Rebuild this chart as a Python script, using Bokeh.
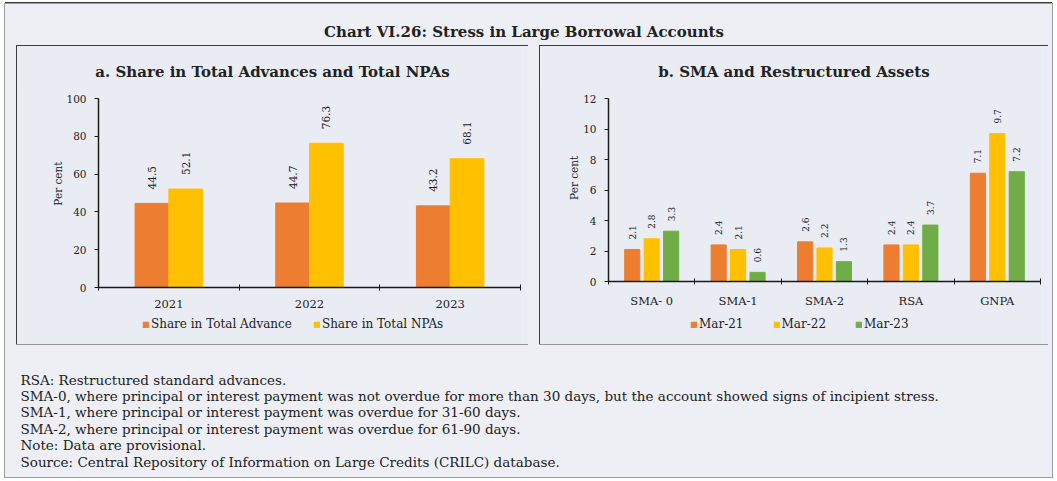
import numpy as np
from bokeh.plotting import figure
from bokeh.models import (ColumnDataSource, Range1d, FixedTicker, Legend, LegendItem, Spacer)
from bokeh.layouts import column, row
from bokeh.embed import file_html
from bokeh.resources import INLINE
from bokeh.core.properties import value

# ---------------- data ----------------
chart_title = "Chart VI.26: Stress in Large Borrowal Accounts"

a_title = "a. Share in Total Advances and Total NPAs"
years = ["2021", "2022", "2023"]
share_adv = [44.5, 44.7, 43.2]
share_npa = [52.1, 76.3, 68.1]
a_series = ["Share in Total Advance", "Share in Total NPAs"]
a_yticks = [0, 20, 40, 60, 80, 100]

b_title = "b. SMA and Restructured Assets"
b_cats = ["SMA- 0", "SMA-1", "SMA-2", "RSA", "GNPA"]
mar21 = [2.1, 2.4, 2.6, 2.4, 7.1]
mar22 = [2.8, 2.1, 2.2, 2.4, 9.7]
mar23 = [3.3, 0.6, 1.3, 3.7, 7.2]
b_series = ["Mar-21", "Mar-22", "Mar-23"]
b_yticks = [0, 2, 4, 6, 8, 10, 12]

y_label = "Per cent"

notes = [
    "RSA: Restructured standard advances.",
    "SMA-0, where principal or interest payment was not overdue for more than 30 days, but the account showed signs of incipient stress.",
    "SMA-1, where principal or interest payment was overdue for 31-60 days.",
    "SMA-2, where principal or interest payment was overdue for 61-90 days.",
    "Note: Data are provisional.",
    "Source: Central Repository of Information on Large Credits (CRILC) database.",
]

# ---------------- style ----------------
FONT = "DejaVu Serif"
ORANGE = "#ED7D31"
YELLOW = "#FFC000"
GREEN = "#70AD47"
OUTER_BG = "#edeff4"
PANEL_BG = "#e9ecf3"
AXIS_C = "#1a1a1a"
TEXT_C = "#222222"
W = 1047
PANEL_H = 298
HEADROOM = 9


def panel(title, width, n_cats, y_max, px_left, px_right, px_top, px_bottom_zero):
    """Frame covers the whole panel below the title; axes are pinned at 0."""
    ux = (width - px_left - px_right) / n_cats                 # pixels per category
    uy = (PANEL_H - px_top - px_bottom_zero) / y_max           # pixels per y unit
    xr = Range1d(-px_left / ux, n_cats + px_right / ux)
    yr = Range1d(-px_bottom_zero / uy, y_max + HEADROOM / uy)
    p = figure(width=width, height=PANEL_H, x_range=xr, y_range=yr, title=title,
               toolbar_location=None, output_backend="svg",
               min_border_left=0, min_border_right=0, min_border_top=px_top - HEADROOM,
               min_border_bottom=0)
    p.background_fill_color = PANEL_BG
    p.border_fill_color = PANEL_BG
    p.outline_line_color = None
    p.xgrid.visible = False
    p.ygrid.visible = False
    p.title.text_font = FONT
    p.title.text_font_size = "15px"
    p.title.text_font_style = "bold"
    p.title.text_color = TEXT_C
    p.title.align = "center"
    p.title.standoff = 18
    xa, ya = p.xaxis[0], p.yaxis[0]
    for ax in (xa, ya):
        ax.fixed_location = 0
        ax.axis_line_color = AXIS_C
        ax.axis_line_width = 1.5
        ax.major_label_text_font = FONT
        ax.major_label_text_color = TEXT_C
    xa.major_label_text_font_size = "11.5px"
    ya.major_label_text_font_size = "10.5px"
    xa.bounds = (0, n_cats)
    ya.bounds = (0, y_max)
    xa.major_tick_line_color = None
    xa.major_tick_out = 0
    xa.major_tick_in = 0
    xa.minor_tick_line_color = AXIS_C
    xa.minor_tick_in = 3
    xa.minor_tick_out = 3
    xa.major_label_standoff = 9
    ya.major_tick_line_color = AXIS_C
    ya.major_tick_in = 0
    ya.major_tick_out = 4
    ya.minor_tick_line_color = None
    ya.major_label_standoff = 8
    p.styles = {"outline": "1px solid #3c3c3c"}
    return p, ux, uy


def add_legend(p, labels, renderers, spacing, loc):
    leg = Legend(items=[LegendItem(label=l, renderers=[r]) for l, r in zip(labels, renderers)],
                 orientation="horizontal", location=loc)
    leg.background_fill_alpha = 0
    leg.border_line_alpha = 0
    leg.label_text_font = FONT
    leg.label_text_font_size = "12px"
    leg.label_text_color = TEXT_C
    leg.glyph_width = 7
    leg.glyph_height = 7
    leg.label_standoff = 2
    leg.spacing = spacing
    leg.padding = 2
    leg.margin = 0
    p.add_layout(leg, "center")


def value_labels(p, xk, yk, tk, src, size, off):
    p.text(x=xk, y=yk, text=tk, source=src, angle=np.pi / 2, y_offset=-off,
           text_align="left", text_baseline="middle", text_font=value(FONT),
           text_font_size=size, text_color=TEXT_C)


# ---------------- panel a ----------------
pa, uxa, uya = panel(a_title, 510, len(years), 100, 81, 7, 52, 57)
xa_c = np.arange(len(years)) + 0.5
src_a = ColumnDataSource(dict(
    x_adv=xa_c - 0.12, x_npa=xa_c + 0.12, adv=share_adv, npa=share_npa,
    adv_t=[f"{v:.1f}" for v in share_adv], npa_t=[f"{v:.1f}" for v in share_npa]))
pa.xaxis.ticker = FixedTicker(ticks=list(xa_c), minor_ticks=list(range(len(years) + 1)))
pa.xaxis.major_label_overrides = {float(c): t for c, t in zip(xa_c, years)}
pa.yaxis.ticker = FixedTicker(ticks=a_yticks)
r1 = pa.vbar(x="x_adv", top="adv", width=0.24, source=src_a, color=ORANGE)
r2 = pa.vbar(x="x_npa", top="npa", width=0.24, source=src_a, color=YELLOW)
value_labels(pa, "x_adv", "adv", "adv_t", src_a, "10.5px", 14)
value_labels(pa, "x_npa", "npa", "npa_t", src_a, "10.5px", 14)
pa.text(x=[-41 / uxa], y=[55], text=[y_label], angle=np.pi / 2, text_align="center",
        text_baseline="middle", text_font=value(FONT), text_font_size="10.5px", text_color=TEXT_C)
add_legend(pa, a_series, [r1, r2], 21, (123, 11))

# ---------------- panel b ----------------
pb, uxb, uyb = panel(b_title, 507, len(b_cats), 12, 68, 7, 52, 63)
xb_c = np.arange(len(b_cats)) + 0.5
src_b = ColumnDataSource(dict(
    x1=xb_c - 0.225, x2=xb_c, x3=xb_c + 0.225, v1=mar21, v2=mar22, v3=mar23,
    t1=[f"{v:.1f}" for v in mar21], t2=[f"{v:.1f}" for v in mar22], t3=[f"{v:.1f}" for v in mar23]))
pb.xaxis.ticker = FixedTicker(ticks=list(xb_c), minor_ticks=list(range(len(b_cats) + 1)))
pb.xaxis.major_label_overrides = {float(c): t for c, t in zip(xb_c, b_cats)}
pb.yaxis.ticker = FixedTicker(ticks=b_yticks)
rb = []
for xk, vk, tk, col in (("x1", "v1", "t1", ORANGE), ("x2", "v2", "t2", YELLOW), ("x3", "v3", "t3", GREEN)):
    rb.append(pb.vbar(x=xk, top=vk, width=0.175, source=src_b, color=col))
    value_labels(pb, xk, vk, tk, src_b, "9px", 10)
pb.text(x=[-35 / uxb], y=[6.8], text=[y_label], angle=np.pi / 2, text_align="center",
        text_baseline="middle", text_font=value(FONT), text_font_size="10.5px", text_color=TEXT_C)
add_legend(pb, b_series, rb, 29, (148, 11))

# ---------------- header & notes ----------------
def text_fig(h):
    f = figure(width=W, height=h, x_range=Range1d(0, W), y_range=Range1d(0, h),
               toolbar_location=None, output_backend="svg", x_axis_type=None, y_axis_type=None,
               min_border=0)
    f.background_fill_color = OUTER_BG
    f.border_fill_color = OUTER_BG
    f.outline_line_color = None
    f.xgrid.visible = False
    f.ygrid.visible = False
    return f

HEAD_H = 42
head = text_fig(HEAD_H)
head.text(x=[W / 2 - 5], y=[HEAD_H - 27], text=[chart_title], text_align="center",
          text_baseline="middle", text_font=value(FONT), text_font_size="15px",
          text_font_style="bold", text_color=TEXT_C)

NOTE_H = 133
foot = text_fig(NOTE_H)
foot.text(x=[15] * len(notes), y=[NOTE_H - (35 + 16.4 * i) for i in range(len(notes))],
          text=notes, text_align="left", text_baseline="middle", text_font=value(FONT),
          text_font_size="13.5px", text_color=TEXT_C)

sp = dict(styles={"background-color": OUTER_BG})
mid = row(Spacer(width=12, height=PANEL_H, **sp), pa, Spacer(width=13, height=PANEL_H, **sp), pb,
          Spacer(width=5, height=PANEL_H, **sp))
inner = column(head, mid, foot,
               styles={"background-color": OUTER_BG, "outline": "1px solid #9c9c9c",
                       "box-shadow": "0 -2px 0 #3a3a3a"})
layout = column(Spacer(width=W, height=4), row(Spacer(width=5, height=10), inner))

open("out.html", "w").write(file_html(layout, INLINE))
